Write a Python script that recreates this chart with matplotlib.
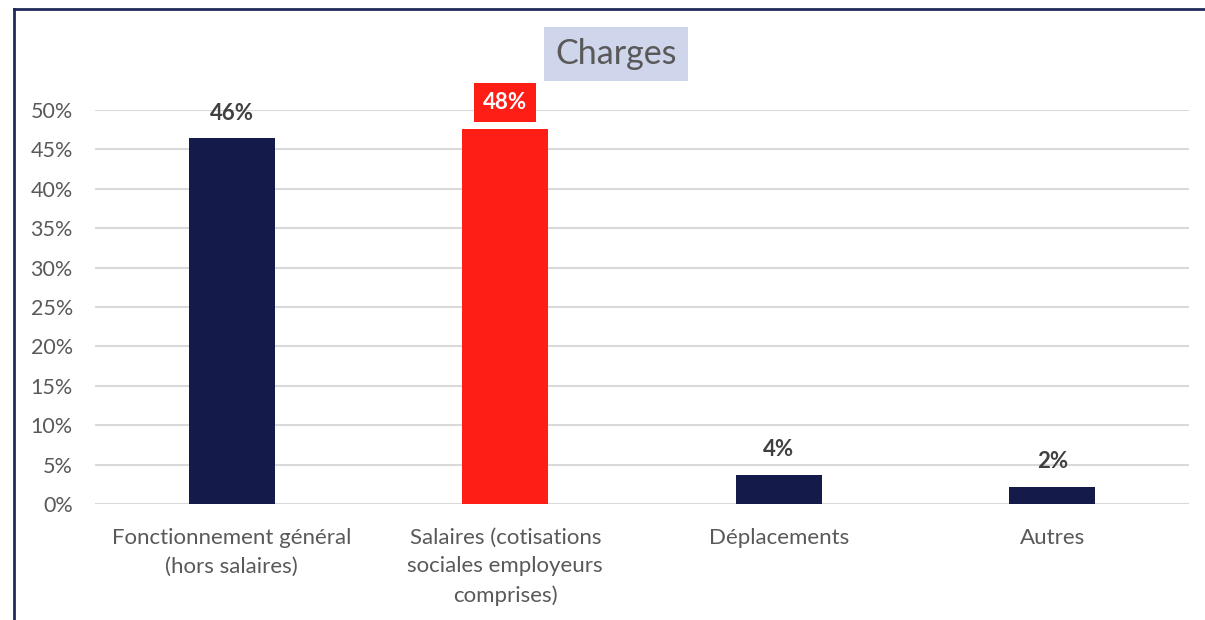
import matplotlib
matplotlib.use("Agg")
import matplotlib.pyplot as plt
from matplotlib.lines import Line2D
from matplotlib.ticker import FuncFormatter, MultipleLocator

categories = [
    "Fonctionnement général\n(hors salaires)",
    "Salaires (cotisations\nsociales employeurs\ncomprises)",
    "Déplacements",
    "Autres",
]
shares = [46.4, 47.6, 3.7, 2.2]
highlight = [False, True, False, False]

NAVY = "#141A4A"
RED = "#FF1E16"
TEXT = "#595959"
LABEL = "#404040"
GRID = "#D9D9D9"

plt.rcParams["font.family"] = ["Lato", "DejaVu Sans"]

fig = plt.figure(figsize=(12.05, 6.2), dpi=100)
ax = fig.add_axes([95 / 1205, 1 - 504 / 620, (1189 - 95) / 1205, (504 - 110) / 620])

x = list(range(len(categories)))
colors = [RED if h else NAVY for h in highlight]
bars = ax.bar(x, shares, width=0.315, color=colors, zorder=3)

ax.set_xlim(-0.5, len(categories) - 0.5)
ax.set_ylim(0, 50)
ax.yaxis.set_major_locator(MultipleLocator(5))
ax.yaxis.set_major_formatter(FuncFormatter(lambda v, _: f"{v:.0f}%"))
ax.grid(axis="y", color=GRID, linewidth=1.5, zorder=0)
ax.set_axisbelow(True)
for s in ax.spines.values():
    s.set_visible(False)
ax.tick_params(axis="both", length=0, labelsize=15.5, labelcolor=TEXT)
ax.tick_params(axis="y", pad=16)
ax.tick_params(axis="x", labelsize=16, pad=17)
ax.set_xticks(x)
ax.set_xticklabels(categories, linespacing=1.55)

for b, v, h in zip(bars, shares, highlight):
    cx = b.get_x() + b.get_width() / 2
    if h:
        ax.annotate(f"{v:.0f}%", (cx, v), xytext=(0, 19), textcoords="offset points",
                    ha="center", va="center", fontsize=16, fontweight="bold", color="white",
                    bbox=dict(boxstyle="square,pad=0.4", fc=RED, ec="none"), zorder=5)
    else:
        ax.annotate(f"{v:.0f}%", (cx, v), xytext=(0, 18), textcoords="offset points",
                    ha="center", va="center", fontsize=16, fontweight="bold", color=LABEL,
                    zorder=5)

fig.text(616 / 1205, 1 - 54 / 620, "Charges", ha="center", va="center", fontsize=24.5,
         color=TEXT, bbox=dict(boxstyle="square,pad=0.32", fc="#CFD5EA", ec="none"))

# frame edges of the chart panel
fig.add_artist(Line2D([14 / 1205, 14 / 1205], [0, 1 - 9 / 620], color="#1F2A5C", linewidth=2,
                      transform=fig.transFigure))
fig.add_artist(Line2D([14 / 1205, 1], [1 - 9 / 620, 1 - 9 / 620], color="#1F2A5C", linewidth=2,
                      transform=fig.transFigure))

fig.savefig("out.png", dpi=100, facecolor="white")
